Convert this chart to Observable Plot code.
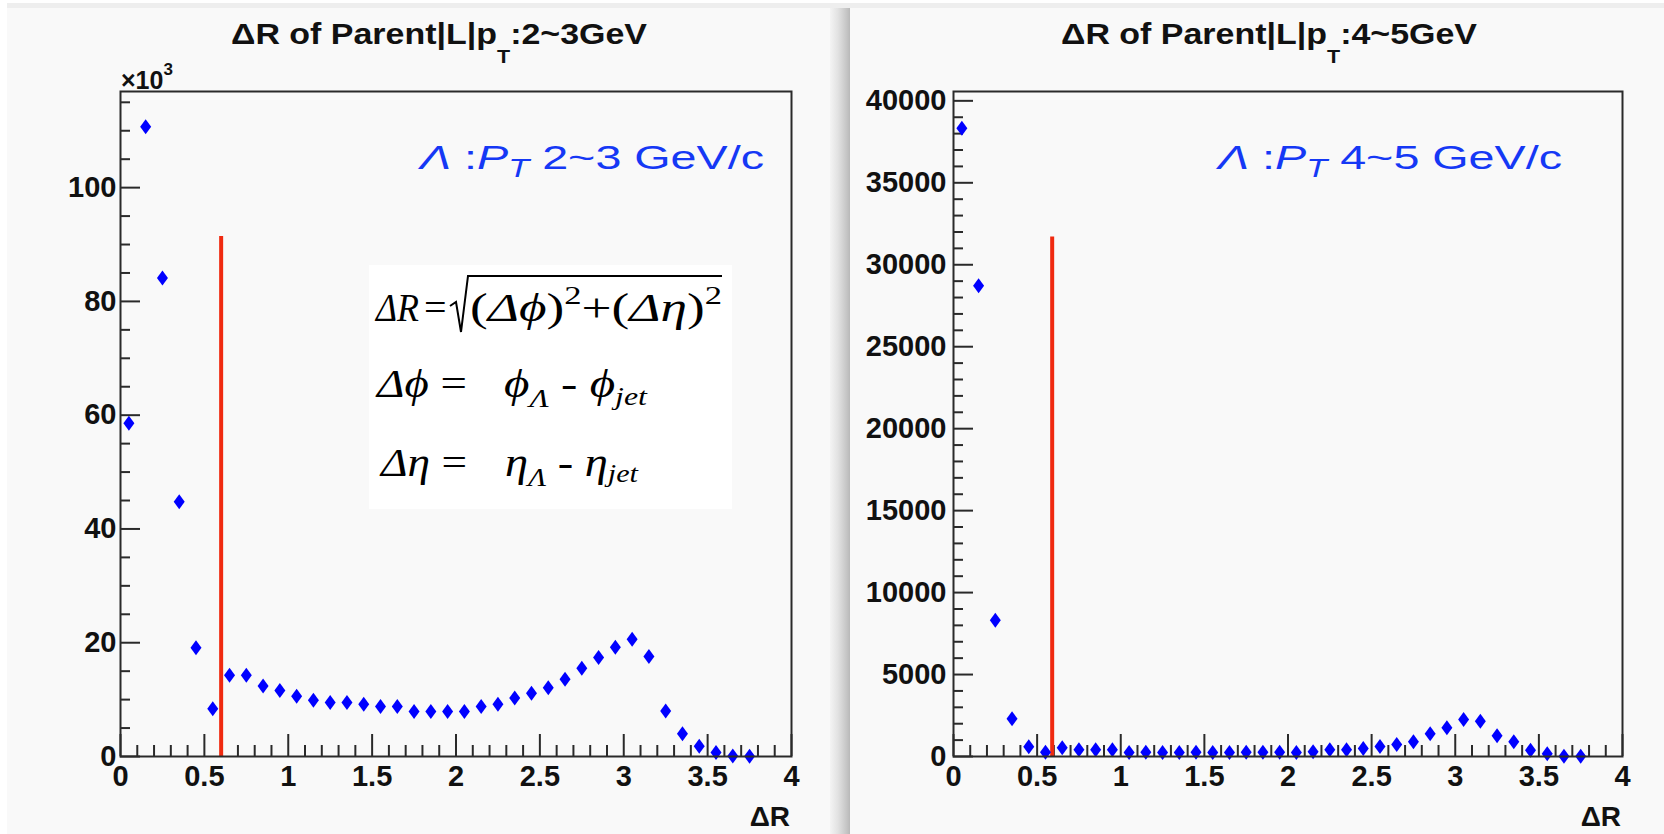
<!DOCTYPE html>
<html>
<head>
<meta charset="utf-8">
<script src="https://cdn.jsdelivr.net/npm/d3@7"></script>
<script src="https://cdn.jsdelivr.net/npm/@observablehq/plot@0.6"></script>
<style>
  html, body { margin: 0; padding: 0; background: #ffffff; }
  body { width: 1664px; height: 834px; overflow: hidden; position: relative; font-family: "Liberation Sans", Arial, Helvetica, sans-serif; }
  .strip { position: absolute; top: 3px; height: 5px; left: 7px; right: 0; background: #eeeeee; }
  .panel { position: absolute; top: 8px; height: 826px; background: #f9f9f9; }
  .shadow { position: absolute; top: 8px; height: 826px; left: 830px; width: 20px;
            background: linear-gradient(to right, #f4f4f4 0%, #e2e2e2 40%, #c4c4c4 85%, #b8b8b8 100%); }
  .plotbox { position: absolute; top: 8px; }
  #overlay { position: absolute; left: 0; top: 0; pointer-events: none; }
  #overlay .sans { font-family: "Liberation Sans", Arial, Helvetica, sans-serif; }
  #overlay .serif { font-family: "Liberation Serif", "Times New Roman", serif; }
</style>
</head>
<body>
<div class="strip"></div>
<div class="panel" style="left:7px;width:823px;"></div>
<div class="shadow"></div>
<div class="panel" style="left:850px;width:814px;"></div>
<div id="left" class="plotbox" style="left:7px;"></div>
<div id="right" class="plotbox" style="left:850px;"></div>

<svg id="overlay" width="1664" height="834" viewBox="0 0 1664 834">
  <!-- titles -->
  <text class="sans" x="231" y="44" font-size="30" font-weight="bold" fill="#111" textLength="416" lengthAdjust="spacingAndGlyphs">ΔR of Parent|L|p<tspan font-size="19" dy="19">T</tspan><tspan dy="-19">:2~3GeV</tspan></text>
  <text class="sans" x="1061" y="44" font-size="30" font-weight="bold" fill="#111" textLength="416" lengthAdjust="spacingAndGlyphs">ΔR of Parent|L|p<tspan font-size="19" dy="19">T</tspan><tspan dy="-19">:4~5GeV</tspan></text>
  <!-- exponent label -->
  <text class="sans" x="121" y="89" font-size="25" font-weight="bold" fill="#111">×10<tspan font-size="17" dy="-14">3</tspan></text>
  <!-- x axis titles -->
  <text class="sans" x="790" y="826" font-size="28" font-weight="bold" fill="#111" text-anchor="end">ΔR</text>
  <text class="sans" x="1621" y="826" font-size="28" font-weight="bold" fill="#111" text-anchor="end">ΔR</text>
  <!-- blue annotations -->
  <text class="sans" x="420" y="169" font-size="34" fill="#1538f5" textLength="344" lengthAdjust="spacingAndGlyphs"><tspan font-style="italic">Λ</tspan> :<tspan font-style="italic">P</tspan><tspan font-style="italic" font-size="25" dy="8">T</tspan><tspan dy="-8"> 2~3 GeV/c</tspan></text>
  <text class="sans" x="1218" y="169" font-size="34" fill="#1538f5" textLength="344" lengthAdjust="spacingAndGlyphs"><tspan font-style="italic">Λ</tspan> :<tspan font-style="italic">P</tspan><tspan font-style="italic" font-size="25" dy="8">T</tspan><tspan dy="-8"> 4~5 GeV/c</tspan></text>
  <!-- formula box -->
  <rect x="369" y="265" width="363" height="244" fill="#ffffff"></rect>
  <g class="serif" fill="#000">
    <text x="376" y="321" font-size="40" font-style="italic" textLength="43" lengthAdjust="spacingAndGlyphs">ΔR</text>
    <text x="424" y="321" font-size="40">=</text>
    <path d="M450,306 L456,302 L461,332 L468,276 L722,276" fill="none" stroke="#000" stroke-width="2"></path>
    <text x="470" y="321" font-size="40" textLength="252" lengthAdjust="spacingAndGlyphs">(<tspan font-style="italic">Δϕ</tspan>)<tspan font-size="26" dy="-17">2</tspan><tspan dy="17">+(</tspan><tspan font-style="italic">Δη</tspan>)<tspan font-size="26" dy="-17">2</tspan></text>
    <text x="377" y="397" font-size="40" textLength="90" lengthAdjust="spacingAndGlyphs"><tspan font-style="italic">Δϕ</tspan> =</text>
    <text x="504" y="397" font-size="40" textLength="143" lengthAdjust="spacingAndGlyphs"><tspan font-style="italic">ϕ</tspan><tspan font-style="italic" font-size="26" dy="10">Λ</tspan><tspan dy="-10"> - </tspan><tspan font-style="italic">ϕ</tspan><tspan font-style="italic" font-size="26" dy="8">jet</tspan></text>
    <text x="381" y="476" font-size="40" textLength="86" lengthAdjust="spacingAndGlyphs"><tspan font-style="italic">Δη</tspan> =</text>
    <text x="505" y="476" font-size="40" textLength="133" lengthAdjust="spacingAndGlyphs"><tspan font-style="italic">η</tspan><tspan font-style="italic" font-size="26" dy="10">Λ</tspan><tspan dy="-10"> - </tspan><tspan font-style="italic">η</tspan><tspan font-style="italic" font-size="26" dy="6">jet</tspan></text>
  </g>
</svg>

<script>
// ---- data ----
const binCenters = [0.05,0.15,0.25,0.35,0.45,0.55,0.65,0.75,0.85,0.95,1.05,1.15,1.25,1.35,1.45,1.55,1.65,1.75,1.85,1.95,2.05,2.15,2.25,2.35,2.45,2.55,2.65,2.75,2.85,2.95,3.05,3.15,3.25,3.35,3.45,3.55,3.65,3.75];
const countsPt23 = [58600,110700,84100,44800,19100,8400,14300,14300,12400,11600,10600,9900,9500,9500,9200,8800,8800,7900,7900,7900,7900,8800,9200,10300,11100,12100,13600,15500,17400,19200,20600,17600,8000,4000,1800,700,100,50];
const countsPt45 = [38330,28720,8315,2300,590,264,528,407,407,407,244,264,244,244,264,244,244,264,264,264,244,285,407,407,488,610,732,894,1382,1748,2257,2155,1260,894,386,163,20,10];
const cutPt23 = [{x: 0.6, top: 91400}];
const cutPt45 = [{x: 0.59, top: 31700}];
const xMajorTicks = [0,0.5,1,1.5,2,2.5,3,3.5,4];
const xMinorTicks = [0.1,0.2,0.3,0.4,0.6,0.7,0.8,0.9,1.1,1.2,1.3,1.4,1.6,1.7,1.8,1.9,2.1,2.2,2.3,2.4,2.6,2.7,2.8,2.9,3.1,3.2,3.3,3.4,3.6,3.7,3.8,3.9];
const yMajorPt23 = [0,20000,40000,60000,80000,100000];
const yMinorPt23 = [5000,10000,15000,25000,30000,35000,45000,50000,55000,65000,70000,75000,85000,90000,95000,105000,110000,115000];
const yMajorPt45 = [0,5000,10000,15000,20000,25000,30000,35000,40000];
const yMinorPt45 = [1000,2000,3000,4000,6000,7000,8000,9000,11000,12000,13000,14000,16000,17000,18000,19000,21000,22000,23000,24000,26000,27000,28000,29000,31000,32000,33000,34000,36000,37000,38000,39000];
const yMaxPt23 = 116900;
const yMaxPt45 = 40570;

// ROOT-like diamond marker
const diamond = {
  draw(ctx) { ctx.moveTo(0, -7.5); ctx.lineTo(5.5, 0); ctx.lineTo(0, 7.5); ctx.lineTo(-5.5, 0); ctx.closePath(); }
};

function histPanel({counts, yMax, yMajor, yMinor, cut, yFormat, yPad, width, height, ml, mr, mt, mb}) {
  const fw = width - ml - mr, fh = height - mt - mb;
  const data = binCenters.map((x, i) => ({x, y: counts[i]}));
  const ink = "#2a2a2a";
  return Plot.plot({
    width, height,
    marginLeft: ml, marginRight: mr, marginTop: mt, marginBottom: mb,
    x: {domain: [0, 4]},
    y: {domain: [0, yMax]},
    style: {background: "transparent", fontFamily: "'Liberation Sans', Arial, sans-serif", fontSize: "29px", fontWeight: "bold", color: "#111", overflow: "visible"},
    marks: [
      Plot.tickY(yMinor, {y: d => d, insetRight: fw - 10, stroke: ink, strokeWidth: 2}),
      Plot.tickY(yMajor, {y: d => d, insetRight: fw - 20, stroke: ink, strokeWidth: 2}),
      Plot.tickX(xMinorTicks, {x: d => d, insetTop: fh - 11, stroke: ink, strokeWidth: 2}),
      Plot.tickX(xMajorTicks, {x: d => d, insetTop: fh - 22, stroke: ink, strokeWidth: 2}),
      Plot.axisY({ticks: yMajor, tickSize: 0, tickPadding: yPad, tickFormat: yFormat, label: null}),
      Plot.axisX({ticks: xMajorTicks, tickSize: 0, tickPadding: 9, tickFormat: d => String(d), label: null}),
      Plot.ruleX(cut, {x: "x", y1: 0, y2: "top", stroke: "#f02a10", strokeWidth: 4}),
      Plot.dot(data, {x: "x", y: "y", symbol: diamond, fill: "#0000ff", stroke: null}),
      Plot.frame({stroke: ink, strokeWidth: 2})
    ]
  });
}

document.getElementById("left").append(histPanel({
  counts: countsPt23, yMax: yMaxPt23, yMajor: yMajorPt23, yMinor: yMinorPt23, cut: cutPt23,
  yFormat: d => String(d / 1000), yPad: 4, width: 825, height: 826, ml: 113, mr: 41, mt: 83, mb: 78
}));
document.getElementById("right").append(histPanel({
  counts: countsPt45, yMax: yMaxPt45, yMajor: yMajorPt45, yMinor: yMinorPt45, cut: cutPt45,
  yFormat: d => String(d), yPad: 7, width: 814, height: 826, ml: 103, mr: 42, mt: 83, mb: 78
}));
</script>
</body>
</html>
